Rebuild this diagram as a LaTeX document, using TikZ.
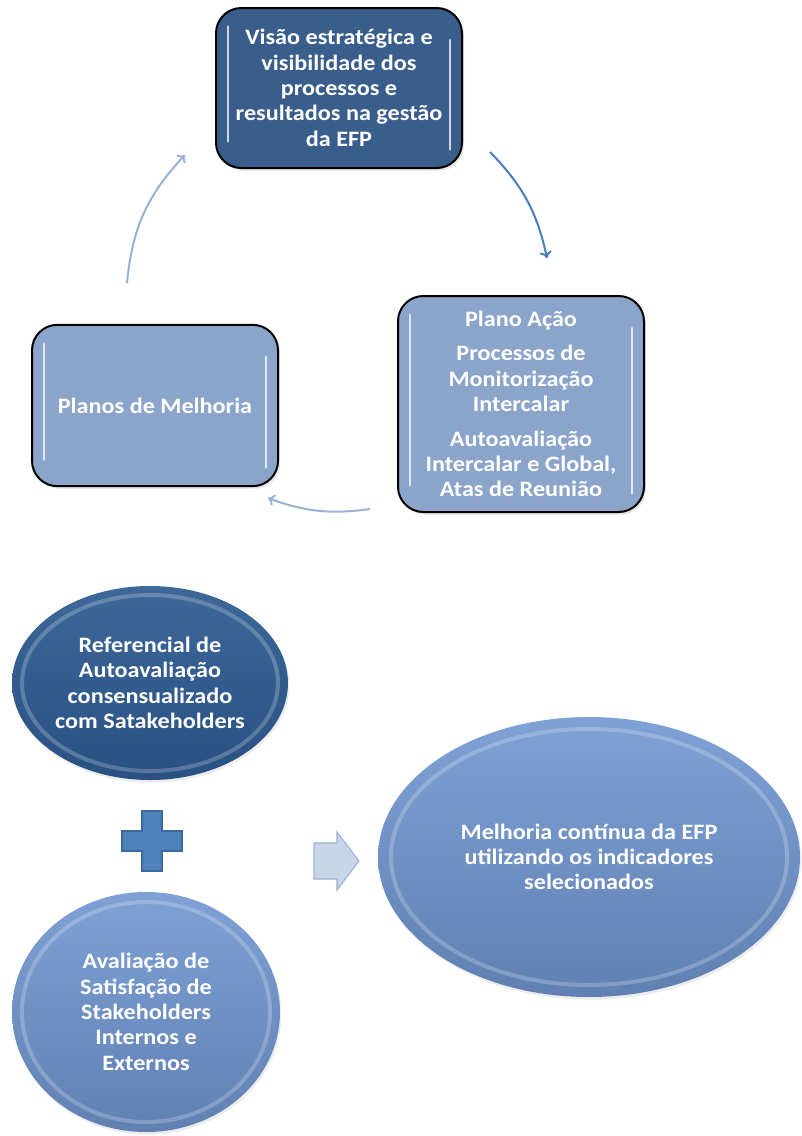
\documentclass[tikz,border=0pt]{standalone}
\usepackage{fontspec}
\setmainfont{Carlito}[FakeStretch=1.1]
\usetikzlibrary{arrows.meta}
\usetikzlibrary{shapes.geometric}
\usetikzlibrary{shadows}

\definecolor{boxdark}{RGB}{58,94,140}
\definecolor{boxlight}{RGB}{139,164,202}
\definecolor{ovaldark}{RGB}{45,90,145}
\definecolor{ovaltop}{RGB}{127,161,213}
\definecolor{ovalbot}{RGB}{96,128,178}
\definecolor{arrowdark}{RGB}{74,126,187}
\definecolor{arrowlight}{RGB}{152,178,214}
\definecolor{plusblue}{RGB}{79,129,189}
\definecolor{plusedge}{RGB}{60,104,160}
\definecolor{blockfill}{RGB}{200,214,234}
\definecolor{blockedge}{RGB}{155,176,212}

\tikzset{
  label text/.style={text=white, align=center, inner sep=0pt,
    font=\bfseries\fontsize{16.5}{19}\selectfont},
  gloss/.style={path picture={
    \draw[white, line width=2pt, opacity=0.75, line cap=round]
      ([xshift=9pt,yshift=-14pt]path picture bounding box.north west) --
      ([xshift=9pt,yshift=20pt]path picture bounding box.south west);
    \draw[white, line width=2pt, opacity=0.75, line cap=round]
      ([xshift=-9pt,yshift=-24pt]path picture bounding box.north east) --
      ([xshift=-9pt,yshift=14pt]path picture bounding box.south east);
  }},
  cyclebox/.style={label text, draw=black, line width=1.5pt, rounded corners=19pt,
    minimum width=184.5pt, gloss,
    drop shadow={opacity=0.2, shadow xshift=1.5pt, shadow yshift=-2pt}},
  oval/.style={label text, ellipse, top color=ovaltop, bottom color=ovalbot,
    drop shadow={opacity=0.15, shadow xshift=1pt, shadow yshift=-2pt}},
  rim/.style={white, opacity=0.22, line width=3pt},
  cyclearrow/.style={line width=1.5pt, -{To[length=5pt,width=9pt]}},
}

\begin{document}
\begin{tikzpicture}[x=0.75pt, y=-0.75pt]
  \useasboundingbox (0,0) rectangle (801,1136);

  % cycle
  \node[cyclebox, fill=boxdark, minimum height=120pt] (vision) at (339,88)
    {Visão estratégica e\\visibilidade dos\\processos e\\resultados na gestão\\da EFP};
  \node[cyclebox, fill=boxlight, minimum height=162pt] (action) at (521,404)
    {Plano Ação\\[7pt]Processos de\\Monitorização\\Intercalar\\[7pt]Autoavaliação\\Intercalar e Global,\\Atas de Reunião};
  \node[cyclebox, fill=boxlight, minimum height=121pt] (improve) at (155,405.5)
    {Planos de Melhoria};

  \coordinate (a1s) at (490,152);
  \coordinate (a1e) at (547,258);
  \coordinate (a2s) at (370,509);
  \coordinate (a2e) at (268,498);
  \coordinate (a3s) at (127,283);
  \coordinate (a3e) at (185,155);

  \draw[cyclearrow, arrowdark] (a1s) to[bend left=16] (a1e);
  \draw[cyclearrow, arrowlight] (a2s) to[bend left=14] (a2e);
  \draw[cyclearrow, arrowlight] (a3s) to[bend left=19] (a3e);

  % sum
  \node[oval, top color=ovaldark!92!white, bottom color=ovaldark!90!black,
    minimum width=207pt, minimum height=145.5pt] (referencial) at (150,683)
    {Referencial de\\Autoavaliação\\consensualizado\\com Satakeholders};
  \draw[rim] (referencial.center) ellipse[x radius=128, y radius=88];

  \coordinate (plus) at (152,841);
  \filldraw[fill=plusblue, draw=plusedge, line width=0.8pt, shift={(plus)}]
    (-10,-30) -- (10,-30) -- (10,-10) -- (30,-10) -- (30,10) -- (10,10) --
    (10,30) -- (-10,30) -- (-10,10) -- (-30,10) -- (-30,-10) -- (-10,-10) -- cycle;

  \node[oval, minimum width=201pt, minimum height=180pt] (satisfacao) at (146,1012)
    {Avaliação de\\Satisfação de\\Stakeholders\\Internos e\\Externos};
  \draw[rim] (satisfacao.center) ellipse[x radius=124, y radius=110];

  % result
  \coordinate (gives) at (336,861);
  \filldraw[fill=blockfill, draw=blockedge, line width=0.8pt, shift={(gives)}]
    (-22,-18) -- (1,-18) -- (1,-29) -- (23,0) -- (1,29) -- (1,18) -- (-22,18) -- cycle;

  \node[oval, minimum width=316.5pt, minimum height=210pt] (melhoria) at (589,857)
    {Melhoria contínua da EFP\\utilizando os indicadores\\selecionados};
  \draw[rim] (melhoria.center) ellipse[x radius=198, y radius=128];
\end{tikzpicture}
\end{document}
